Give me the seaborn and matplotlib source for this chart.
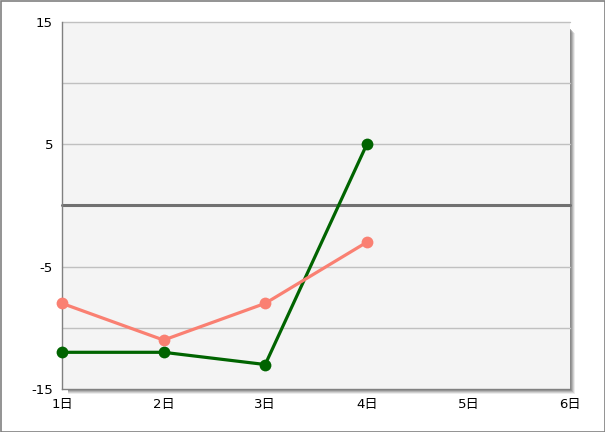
import matplotlib
matplotlib.use("Agg")
import matplotlib.pyplot as plt
from matplotlib.patches import Rectangle
from matplotlib.ticker import FuncFormatter, MultipleLocator
import seaborn as sns
import pandas as pd

days = ["1日", "2日", "3日", "4日", "5日", "6日"]
green_vals = [-12, -12, -13, 5]
salmon_vals = [-8, -11, -8, -3]

sns.set_style("white")
plt.rcParams['font.family'] = ['DejaVu Sans', 'Noto Sans CJK JP']

df = pd.DataFrame({
    "x": list(range(len(green_vals))) + list(range(len(salmon_vals))),
    "y": green_vals + salmon_vals,
    "s": ["green"] * len(green_vals) + ["salmon"] * len(salmon_vals),
})

W, H = 605, 432
fig = plt.figure(figsize=(W / 100, H / 100), dpi=100)
fig.patch.set_facecolor("white")
fig.add_artist(Rectangle((0.5 / W, 0.5 / H), 1 - 1 / W, 1 - 1 / H, transform=fig.transFigure,
                         fill=False, edgecolor="#808080", linewidth=1.2))

l, r, t, b = 62, 570, 22, 389
# drop shadow
for i, a in enumerate([0.15, 0.25, 0.35, 0.5, 0.6]):
    off = 5 - i
    fig.add_artist(Rectangle(((l + 6) / W, (H - b - off) / H), (r - l - 6 + off) / W,
                             (b - t - 6) / H, transform=fig.transFigure,
                             facecolor="#808080", edgecolor="none", alpha=a, zorder=0))

ax = fig.add_axes([l / W, (H - b) / H, (r - l) / W, (b - t) / H])
ax.set_facecolor("#f4f4f4")
ax.set_zorder(1)

for yv in [-10, -5, 5, 10, 15]:
    ax.axhline(yv, color="#c0c0c0", linewidth=1, zorder=1)
ax.axhline(0, color="#707070", linewidth=2.2, zorder=2)

sns.lineplot(data=df, x="x", y="y", hue="s", palette={"green": "#006400", "salmon": "#fa8072"},
             marker="o", markersize=8.5, markeredgewidth=0, linewidth=2.3, legend=False, ax=ax, zorder=3)
for ln in ax.get_lines():
    ln.set_clip_on(False)

ax.set_xlim(0, len(days) - 1)
ax.set_ylim(-15, 15)
ax.set_xticks(range(len(days)))
ax.set_xticklabels(days)
ax.yaxis.set_major_locator(MultipleLocator(5))
ax.yaxis.set_major_formatter(FuncFormatter(lambda v, p: f"{int(round(v))}" if int(round(v)) % 10 != 0 else ""))
ax.tick_params(axis="both", direction="out", length=5, width=1, color="black", labelsize=9.5, pad=1.5, labelcolor="black")
ax.set_xlabel("")
ax.set_ylabel("")
for s in ["top", "right"]:
    ax.spines[s].set_visible(False)
ax.spines["left"].set_color("#808080")
ax.spines["bottom"].set_color("#808080")
for sp in ax.spines.values():
    sp.set_linewidth(1)

fig.savefig("out.png", dpi=100)
